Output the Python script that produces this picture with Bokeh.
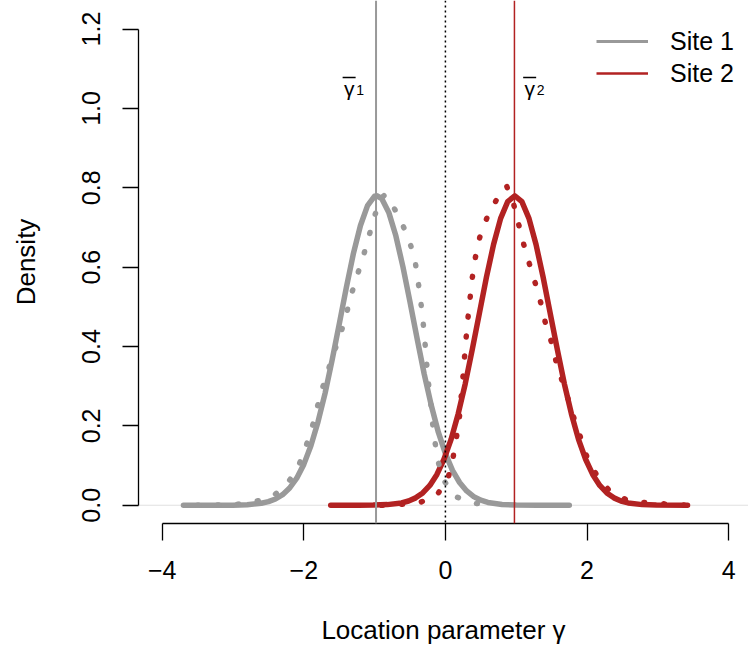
from bokeh.plotting import figure
from bokeh.models import (Range1d, Span, FixedTicker, NumeralTickFormatter,
                          Legend, LegendItem, ColumnDataSource)
from bokeh.core.properties import value
from bokeh.embed import file_html
from bokeh.resources import INLINE

# ---------------- data ----------------
site_names = ["Site 1", "Site 2"]
site_means = [-0.98, 0.975]          # vertical reference lines (gamma-bar)
label_main = ["\u03b3", "\u03b3"]
label_sub = ["1", "2"]

# Site 1, solid density
s1_x = [-3.7, -3.3, -3.0, -2.8, -2.6, -2.5, -2.4, -2.3, -2.2, -2.1, -2.0, -1.9,
        -1.8, -1.7, -1.6, -1.5, -1.4, -1.3, -1.2, -1.1, -1.0, -0.97, -0.9, -0.8,
        -0.7, -0.6, -0.5, -0.4, -0.3, -0.2, -0.1, 0.0, 0.1, 0.2, 0.3, 0.4, 0.5,
        0.6, 0.8, 1.0, 1.3, 1.75]
s1_y = [0.0, 0.0, 0.0003, 0.0013, 0.0049, 0.0090, 0.0158, 0.0267, 0.0435, 0.0683,
        0.103, 0.150, 0.210, 0.282, 0.366, 0.456, 0.548, 0.634, 0.705, 0.755,
        0.779, 0.780, 0.773, 0.738, 0.679, 0.601, 0.512, 0.420, 0.331, 0.252,
        0.184, 0.130, 0.0878, 0.0573, 0.036, 0.0218, 0.0126, 0.0071, 0.002,
        0.0005, 0.0, 0.0]

# Site 2, solid density
s2_x = [-1.62, -1.22, -1.02, -0.82, -0.62, -0.52, -0.42, -0.32, -0.22, -0.12,
        -0.02, 0.08, 0.18, 0.28, 0.38, 0.48, 0.58, 0.68, 0.78, 0.88, 0.98, 1.08,
        1.18, 1.28, 1.38, 1.48, 1.58, 1.68, 1.78, 1.88, 1.98, 2.08, 2.18, 2.28,
        2.38, 2.48, 2.58, 2.78, 2.98, 3.42]
s2_y = [0.0, 0.0001, 0.0004, 0.0016, 0.0059, 0.0107, 0.0186, 0.031, 0.050, 0.0776,
        0.116, 0.166, 0.230, 0.306, 0.393, 0.484, 0.575, 0.657, 0.723, 0.765,
        0.780, 0.765, 0.723, 0.657, 0.575, 0.484, 0.393, 0.306, 0.230, 0.166,
        0.116, 0.0776, 0.050, 0.031, 0.0186, 0.0107, 0.0059, 0.0016, 0.0004, 0.0]

# Site 1, dotted density
d1_x = [-3.5, -3.0, -2.75, -2.46, -2.24, -2.09, -1.98, -1.89, -1.82, -1.75,
        -1.66, -1.57, -1.475, -1.395, -1.324, -1.239, -1.154, -1.074, -0.994,
        -0.92, -0.85, -0.768, -0.632, -0.518, -0.433, -0.391, -0.353, -0.320,
        -0.292, -0.269, -0.245, -0.212, -0.188, -0.151, -0.108, -0.028, 0.137,
        0.405, 0.7]
d1_y = [0.0, 0.001, 0.007, 0.019, 0.053, 0.092, 0.143, 0.191, 0.240, 0.288,
        0.338, 0.387, 0.435, 0.485, 0.534, 0.583, 0.631, 0.682, 0.732, 0.772,
        0.783, 0.763, 0.718, 0.671, 0.621, 0.571, 0.521, 0.470, 0.418, 0.367,
        0.316, 0.267, 0.216, 0.164, 0.113, 0.064, 0.022, 0.005, 0.0]

# Site 2, dotted density
d2_x = [-0.9, -0.674, -0.391, -0.131, 0.033, 0.104, 0.151, 0.195, 0.245, 0.268,
        0.292, 0.318, 0.349, 0.38, 0.424, 0.485, 0.584, 0.716, 0.79, 0.866,
        0.966, 1.036, 1.107, 1.187, 1.272, 1.347, 1.413, 1.498, 1.565, 1.658,
        1.743, 1.823, 1.918, 2.011, 2.153, 2.328, 2.600, 2.859, 3.4]
d2_y = [0.0, 0.002, 0.005, 0.023, 0.065, 0.116, 0.165, 0.217, 0.318, 0.369,
        0.421, 0.471, 0.523, 0.574, 0.625, 0.675, 0.723, 0.768, 0.795, 0.804,
        0.757, 0.707, 0.657, 0.608, 0.558, 0.510, 0.459, 0.411, 0.361, 0.308,
        0.262, 0.215, 0.166, 0.115, 0.071, 0.034, 0.010, 0.006, 0.0]

x_ticks = [-4, -2, 0, 2, 4]
x_tick_labels = ["\u22124", "\u22122", "0", "2", "4"]
y_ticks = [0, 0.2, 0.4, 0.6, 0.8, 1.0, 1.2]

# ---------------- styling ----------------
GRAY = "#999999"
RED = "#B22222"
FONT = "Liberation Sans"

p = figure(width=748, height=647,
           x_range=Range1d(-4.335, 4.281), y_range=Range1d(-0.046, 1.272),
           output_backend="svg", toolbar_location=None,
           min_border_left=138, min_border_right=0,
           min_border_top=0, min_border_bottom=123)
p.xgrid.visible = False
p.ygrid.visible = False
p.outline_line_color = None
p.background_fill_color = "white"
p.border_fill_color = "white"

# baseline at zero
p.add_layout(Span(location=0, dimension="width", line_color="#E0E0E0",
                  line_width=1, level="underlay"))

# curves
p.line(s1_x, s1_y, line_color=GRAY, line_width=5.5, line_cap="round", line_join="round")
p.line(s2_x, s2_y, line_color=RED, line_width=5.5, line_cap="round", line_join="round")
p.line(d1_x, d1_y, line_color=GRAY, line_width=5.5, line_dash="1 19", line_cap="round")
p.line(d2_x, d2_y, line_color=RED, line_width=5.5, line_dash="1 19", line_cap="round")

# vertical reference lines
p.add_layout(Span(location=site_means[0], dimension="height", line_color=GRAY, line_width=2))
p.add_layout(Span(location=site_means[1], dimension="height", line_color=RED, line_width=1.5))
p.add_layout(Span(location=0, dimension="height", line_color="black",
                  line_width=1.5, line_dash="2 3"))

# gamma-bar labels
lab_x = [site_means[0] - 0.38, site_means[1] + 0.215]
lab = ColumnDataSource(dict(x=lab_x, y=[1.051, 1.051], yb=[1.078, 1.078],
                            t=label_main, s=label_sub))
p.text(x="x", y="y", text="t", source=lab, text_font=value(FONT),
       text_font_size="21px", text_align="center", text_baseline="alphabetic",
       text_color="black")
p.text(x="x", y="y", text="s", source=lab, text_font=value(FONT),
       text_font_size="14px", text_align="left", text_baseline="alphabetic",
       x_offset=7, y_offset=2, text_color="#000000")
p.scatter(x="x", y="yb", source=lab, marker="dash", size=13,
          line_color="black", line_width=1.6)

# legend (renderers holding a single point, so only their legend glyph shows)
r1 = p.line(x=s1_x[:1], y=s1_y[:1], line_color=GRAY, line_width=3)
r2 = p.line(x=s2_x[:1], y=s2_y[:1], line_color=RED, line_width=2.5)
legend = Legend(items=[LegendItem(label=site_names[0], renderers=[r1]),
                       LegendItem(label=site_names[1], renderers=[r2])],
                location=(458, 434), padding=0, margin=0, spacing=0,
                glyph_width=52, glyph_height=32, label_height=32,
                label_standoff=22, border_line_color=None,
                background_fill_alpha=0, label_text_font=FONT,
                label_text_font_size="25px", label_text_color="black")
p.add_layout(legend)

# axes
for ax in (p.xaxis[0], p.yaxis[0]):
    ax.axis_line_width = 1.3
    ax.axis_line_color = "black"
    ax.major_tick_line_width = 1.3
    ax.major_tick_line_color = "black"
    ax.minor_tick_line_color = None
    ax.major_tick_in = 0
    ax.major_label_text_font = FONT
    ax.major_label_text_font_size = "25px"
    ax.major_label_text_color = "black"
    ax.axis_label_text_font = FONT
    ax.axis_label_text_font_size = "26px"
    ax.axis_label_text_font_style = "normal"
    ax.axis_label_text_color = "black"

xa = p.xaxis[0]
xa.ticker = FixedTicker(ticks=x_ticks)
xa.major_label_overrides = dict(zip(x_ticks, x_tick_labels))
xa.bounds = (-4, 4)
xa.major_tick_out = 17
xa.major_label_standoff = 20
xa.axis_label = "Location parameter \u03b3"
xa.axis_label_standoff = 33

ya = p.yaxis[0]
ya.ticker = FixedTicker(ticks=y_ticks)
ya.formatter = NumeralTickFormatter(format="0.0")
ya.bounds = (0, 1.2)
ya.major_tick_out = 16
ya.major_label_orientation = "vertical"
ya.major_label_standoff = 22
ya.axis_label = "Density"
ya.axis_label_standoff = 39

open("out.html", "w").write(file_html(p, INLINE))
